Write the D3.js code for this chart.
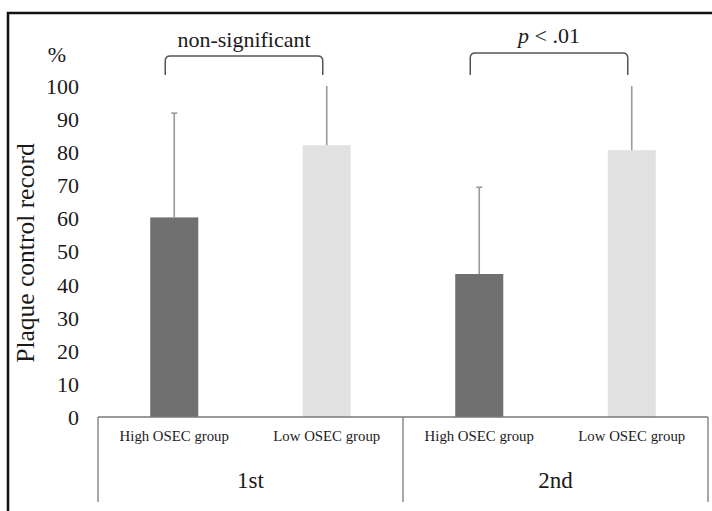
<!DOCTYPE html>
<html><head><meta charset="utf-8">
<script src="https://cdn.jsdelivr.net/npm/d3@7"></script>
<style>body{margin:0;background:#fff}svg{display:block}</style>
</head><body><svg id="c" width="712" height="511"></svg>
<script>
const sessions = ["1st", "2nd"];
const groups = ["High OSEC group", "Low OSEC group"];
const means = [60.3, 82.1, 43.2, 80.6];
const sds = [31.5, 19.0, 26.2, 21.0];
const yTicks = [0, 10, 20, 30, 40, 50, 60, 70, 80, 90, 100];
const annotations = ["non-significant", "p < .01"];
const colors = ["#707070", "#e1e1e1"];

const FONT = "Liberation Serif";
const svg = d3.select("#c");
const keys = [];
sessions.forEach((s, i) => groups.forEach((g, j) => keys.push({s, g, i, j, k: s + "|" + g, v: means[i*2+j], e: sds[i*2+j]})));

const x = d3.scaleBand().domain(keys.map(d => d.k)).range([98, 708]).padding(0);
const xs = d3.scaleBand().domain(sessions).range([98, 708]).padding(0);
const y = d3.scaleLinear().domain([0, 100]).range([417, 86]);
const bw = x.bandwidth() * 0.315;
const cx = d => x(d.k) + x.bandwidth() / 2;

function txt(sel) { return sel.attr("font-family", FONT).attr("fill", "#1a1a1a"); }

// frame
svg.append("rect").attr("x", 8).attr("y", 13).attr("width", 720).attr("height", 520)
  .attr("fill", "none").attr("stroke", "#111").attr("stroke-width", 2.5);

svg.append("clipPath").attr("id", "clip").append("rect")
  .attr("x", 90).attr("y", y(100)).attr("width", 630).attr("height", y(0) - y(100));

// bars
svg.append("g").selectAll("rect").data(keys).join("rect")
  .attr("x", d => cx(d) - bw / 2).attr("width", bw)
  .attr("y", d => y(d.v)).attr("height", d => y(0) - y(d.v))
  .attr("fill", d => colors[d.j]);

// error bars
const eg = svg.append("g").attr("clip-path", "url(#clip)").attr("stroke", "#9a9a9a").attr("stroke-width", 1.6);
eg.selectAll("line.v").data(keys).join("line").attr("class", "v")
  .attr("x1", cx).attr("x2", cx).attr("y1", d => y(d.v)).attr("y2", d => y(d.v + d.e));
eg.selectAll("line.c").data(keys).join("line").attr("class", "c")
  .attr("x1", d => cx(d) - 3).attr("x2", d => cx(d) + 3)
  .attr("y1", d => y(d.v + d.e)).attr("y2", d => y(d.v + d.e));

// y tick labels
txt(svg.append("g").selectAll("text").data(yTicks).join("text"))
  .attr("x", 79).attr("y", d => y(d)).attr("dy", "0.36em")
  .attr("text-anchor", "end").attr("font-size", 22).text(d => d);
txt(svg.append("text")).attr("x", 57).attr("y", 62).attr("text-anchor", "middle").attr("font-size", 22).text("%");

// y title
txt(svg.append("text")).attr("transform", "translate(34,253) rotate(-90)")
  .attr("text-anchor", "middle").attr("font-size", 25.5).text("Plaque control record");

// category axis
const ax = svg.append("g").attr("stroke", "#7a7a7a").attr("stroke-width", 1.3);
ax.append("line").attr("x1", 98).attr("x2", 708).attr("y1", y(0)).attr("y2", y(0));
const divs = sessions.map(s => xs(s)).concat([xs(sessions[sessions.length-1]) + xs.bandwidth()]);
ax.selectAll("line.d").data(divs).join("line").attr("class", "d")
  .attr("x1", d => d).attr("x2", d => d).attr("y1", y(0)).attr("y2", 502);

txt(svg.append("g").selectAll("text").data(keys).join("text"))
  .attr("x", cx).attr("y", 441).attr("text-anchor", "middle").attr("font-size", 14.8).text(d => d.g);
txt(svg.append("g").selectAll("text").data(sessions).join("text"))
  .attr("x", d => xs(d) + xs.bandwidth() / 2).attr("y", 488).attr("text-anchor", "middle")
  .attr("font-size", 23).text(d => d);

// significance brackets
const brY = [56, 53], txtY = [47, 43];
sessions.forEach((s, i) => {
  const l = cx(keys[i*2]) - 9, r = cx(keys[i*2+1]) - 4, top = brY[i], bot = 75, rr = 5;
  const p = d3.path();
  p.moveTo(l, bot); p.lineTo(l, top + rr); p.quadraticCurveTo(l, top, l + rr, top);
  p.lineTo(r - rr, top); p.quadraticCurveTo(r, top, r, top + rr); p.lineTo(r, bot);
  svg.append("path").attr("d", p.toString()).attr("fill", "none").attr("stroke", "#555").attr("stroke-width", 1.5);
  const t = txt(svg.append("text")).attr("x", (l + r) / 2).attr("y", txtY[i]).attr("text-anchor", "middle").attr("font-size", 22);
  const a = annotations[i];
  if (a.startsWith("p ")) {
    t.append("tspan").attr("font-style", "italic").text("p");
    t.append("tspan").text(a.slice(1));
  } else t.text(a);
});
</script></body></html>
